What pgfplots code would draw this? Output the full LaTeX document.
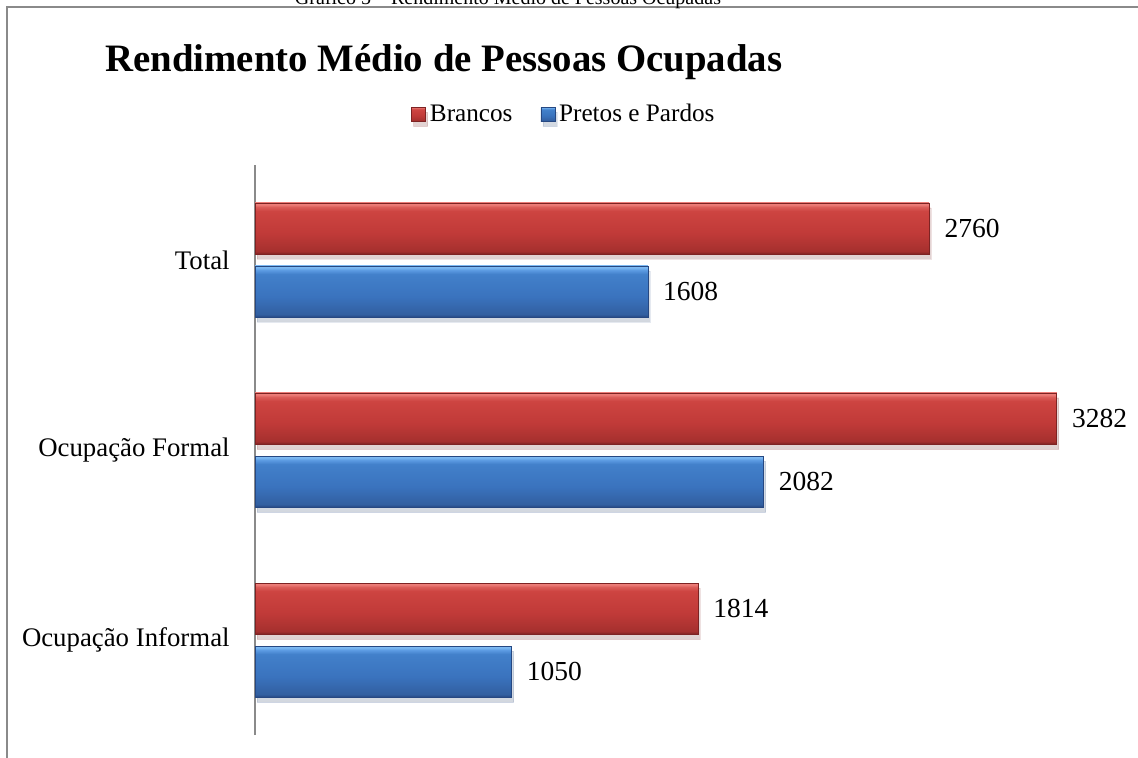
\documentclass[border=0pt]{standalone}
\usepackage{pgfplots}
\pgfplotsset{compat=1.18}
\usepackage{fontspec}
\setmainfont{Liberation Serif}

\definecolor{rdk}{RGB}{125,35,35}
\definecolor{rbot}{RGB}{165,48,46}
\definecolor{rmid}{RGB}{192,58,56}
\definecolor{rmain}{RGB}{205,68,65}
\definecolor{rbev}{RGB}{218,92,88}
\definecolor{rtop}{RGB}{236,125,120}
\definecolor{bdk}{RGB}{38,72,130}
\definecolor{bbot}{RGB}{50,95,160}
\definecolor{bmid}{RGB}{58,115,190}
\definecolor{bmain}{RGB}{66,128,202}
\definecolor{bbev}{RGB}{92,155,226}
\definecolor{btop}{RGB}{125,185,242}
\definecolor{frame}{RGB}{138,138,138}

\pgfdeclareverticalshading{redbar}{100bp}{color(0bp)=(rdk); color(25bp)=(rdk); color(27.5bp)=(rbot); color(45bp)=(rmid); color(67bp)=(rmain); color(71bp)=(rbev); color(73.5bp)=(rtop); color(75bp)=(rtop); color(100bp)=(rtop)}
\pgfdeclareverticalshading{bluebar}{100bp}{color(0bp)=(bdk); color(25bp)=(bdk); color(27.5bp)=(bbot); color(45bp)=(bmid); color(67bp)=(bmain); color(71bp)=(bbev); color(73.5bp)=(btop); color(75bp)=(btop); color(100bp)=(btop)}

\pgfplotsset{
  redbars/.style={shade, shading=redbar, draw=rdk, line width=0.3pt, bar shift=15.75pt,
    preaction={fill=black!70, opacity=0.12, transform canvas={xshift=1pt,yshift=-2.5pt}},
    legend image code/.code={\path[shade, shading=redbar, draw=rdk, line width=0.3pt] (0pt,-3.5pt) rectangle (7pt,3.5pt);}},
  bluebars/.style={shade, shading=bluebar, draw=bdk, line width=0.3pt, bar shift=-15.75pt,
    preaction={fill=black!70, opacity=0.12, transform canvas={xshift=1pt,yshift=-2.5pt}},
    legend image code/.code={\path[shade, shading=bluebar, draw=bdk, line width=0.3pt] (0pt,-3.5pt) rectangle (7pt,3.5pt);}},
}

\begin{document}
\begin{tikzpicture}
\useasboundingbox (0,0) rectangle (569pt,-379pt);
\clip (0,0) rectangle (569pt,-379pt);
% frame
\draw[frame, line width=1pt] (3.5pt,-379pt) -- (3.5pt,-3.75pt) -- (569pt,-3.75pt);
% caption (cut at the top, as in the source)
\node[anchor=base, inner sep=0pt, font=\fontsize{10}{12}\selectfont] at (254pt,-2.5pt) {Gráfico 5 – Rendimento Médio de Pessoas Ocupadas};
% title
\node[anchor=base west, inner sep=0pt, font=\fontsize{19.4}{23}\selectfont\bfseries] at (52.5pt,-36pt) {Rendimento Médio de Pessoas Ocupadas};

\begin{axis}[
  at={(127.5pt,-82.5pt)}, anchor=north west,
  scale only axis, width=427.5pt, height=285pt,
  xmin=0, xmax=3500, ymin=-0.5, ymax=2.5,
  axis x line=none, axis y line*=left,
  axis line style={-},
  y axis line style={draw=frame, line width=1pt},
  ytick={0,1,2},
  yticklabels={Ocupação Informal, Ocupação Formal, Total},
  major tick length=0pt,
  ytick style={draw=none},
  yticklabel style={anchor=east, inner sep=0pt, xshift=-12.5pt, font=\fontsize{13.4}{16}\selectfont},
  xbar, bar width=25.5pt,
  nodes near coords={\pgfmathprintnumber[1000 sep={},assume math mode=true]{\pgfplotspointmeta}},
  nodes near coords align={horizontal},
  every node near coord/.append style={anchor=west, inner sep=0pt, xshift=7.5pt, black, font=\fontsize{13.75}{16}\selectfont},
  legend style={at={(0.3625,1.089)}, anchor=center, draw=none, fill=none, inner sep=0pt,
    legend columns=2, font=\fontsize{12.6}{15}\selectfont,
    /tikz/every even column/.append style={column sep=12pt}},
  legend cell align=left,
  clip=false,
]
% Brancos
\addplot[redbars] coordinates {(2760,2)};
\addlegendentry{Brancos}
% Pretos e Pardos
\addplot[bluebars] coordinates {(1608,2)};
\addlegendentry{Pretos e Pardos}
\addplot[redbars, forget plot] coordinates {(3282,1)};
\addplot[bluebars, forget plot] coordinates {(2082,1)};
\addplot[redbars, forget plot] coordinates {(1814,0)};
\addplot[bluebars, forget plot] coordinates {(1050,0)};
\end{axis}
\end{tikzpicture}
\end{document}
